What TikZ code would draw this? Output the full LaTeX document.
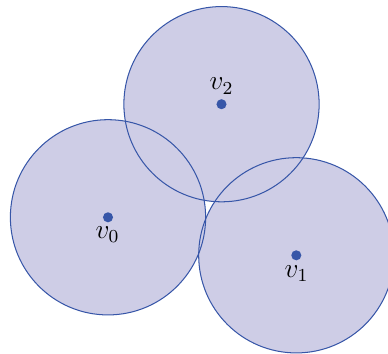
\documentclass[tikz,border=0pt]{standalone}
\definecolor{diskfill}{RGB}{206,205,230}
\definecolor{diskline}{RGB}{55,86,168}
\begin{document}
\begin{tikzpicture}[x=0.01537cm,y=-0.01537cm,
  vdot/.style={circle,fill=diskline,inner sep=0pt,minimum size=4.4pt},
  vlabel/.style={anchor=base,inner sep=0pt,font=\large}]
\useasboundingbox (0,0) rectangle (388,354);
\coordinate (p0) at (108,217.3);
\coordinate (p1) at (296.3,255.3);
\coordinate (p2) at (221.5,104.2);
\foreach \p in {p0,p1,p2} \fill[diskfill] (\p) circle[radius=1.5cm];
\foreach \p in {p0,p1,p2} \draw[diskline,line width=0.45pt] (\p) circle[radius=1.5cm];
\node[vdot] (v0) at (p0) {};
\node[vdot] (v1) at (p1) {};
\node[vdot] (v2) at (p2) {};
\node[vlabel] (l0) at (107.5,238.5) {$v_0$};
\node[vlabel] (l1) at (296.5,277) {$v_1$};
\node[vlabel] (l2) at (221.5,90) {$v_2$};
\end{tikzpicture}
\end{document}
